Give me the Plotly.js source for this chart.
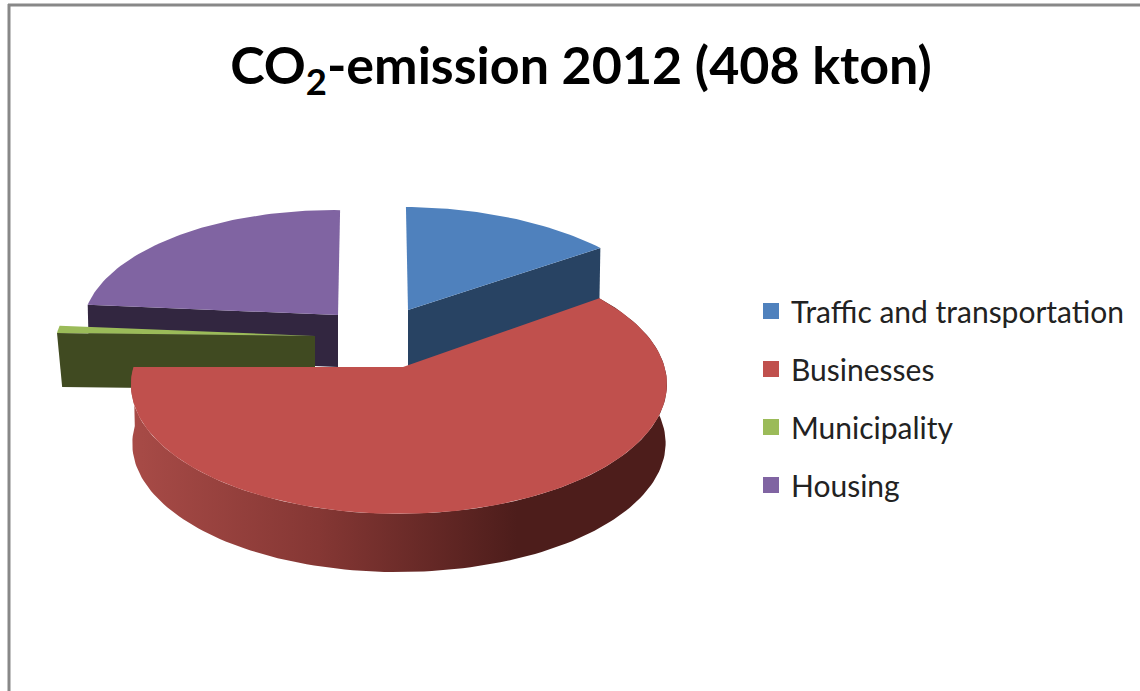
<!DOCTYPE html>
<html>
<head>
<meta charset="utf-8">
<script src="https://cdn.plot.ly/plotly-3.0.1.min.js"></script>
<style>html,body{margin:0;padding:0;background:#fff;overflow:hidden}#chart{width:1140px;height:691px}</style>
</head>
<body>
<div id="chart"></div>
<script>
// Data (kton CO2)
const categories = ["Traffic and transportation", "Businesses", "Municipality", "Housing"];
const emissions = [61, 245, 4, 98];
const chartTitle = "CO<sub>2</sub>-emission 2012 (408 kton)";

// Styles
const topColors = ["#4f81bd", "#c0504d", "#9bbb59", "#8064a2"];
const wallColors = ["#284363", "#4d1d1b", "#404a21", "#322640"];

// Projection of each exploded slice: apex, radii, perspective, shear, tilt, wall height, wall shrink
const projection = [
  {ax:408, ay:310, R:259, S:117, k:.135, m:0,    sh:.02,  ty:.01,  h:56, s:.995, wall:"end"},
  {ax:403, ay:367, R:265.5, S:127, k:.135, m:.015, sh:0,  ty:0,    h:59, s:.995, wall:"rim"},
  {ax:315, ay:336, R:258, S:119, k:.135, m:0,    sh:0,    ty:.012, h:54, s:.98,  wall:"start"},
  {ax:338, ay:315, R:253, S:119, k:.135, m:0,    sh:-.02, ty:.012, h:52, s:.995, wall:"start"}
];

const total = emissions.reduce((a, b) => a + b, 0);
function offset(p, deg) {
  const t = deg * Math.PI / 180, u = Math.sin(t), v = -Math.cos(t);
  const den = 1 - p.k * v + p.m * u;
  const dy = p.S * v / den, dx = p.R * u / den + p.sh * dy;
  return [dx, dy + p.ty * (p.R * u / den)];
}
function arc(a, b) {
  const n = Math.max(2, Math.ceil((b - a) / 1.5)), out = [];
  for (let i = 0; i <= n; i++) out.push(a + (b - a) * i / n);
  return out;
}
const sliceTraces = [], wallTraces = [], keyTraces = [];
let cum = 0;
categories.forEach((name, i) => {
  const a = cum / total * 360, b = (cum + emissions[i]) / total * 360;
  cum += emissions[i];
  const p = projection[i];
  const angles = arc(a, b);
  const topX = [p.ax], topY = [p.ay];
  angles.forEach(d => { const o = offset(p, d); topX.push(p.ax + o[0]); topY.push(p.ay + o[1]); });
  topX.push(p.ax); topY.push(p.ay);
  const wx = [], wy = [];
  if (p.wall === "rim") {
    angles.forEach(d => { const o = offset(p, d); wx.push(p.ax + o[0]); wy.push(p.ay + o[1]); });
    angles.slice().reverse().forEach(d => { const o = offset(p, d); wx.push(p.ax + o[0] * p.s); wy.push(p.ay + o[1] * p.s + p.h); });
  } else {
    const o = offset(p, p.wall === "end" ? b : a);
    wx.push(p.ax, p.ax + o[0], p.ax + o[0] * p.s, p.ax);
    wy.push(p.ay, p.ay + o[1], p.ay + o[1] * p.s + p.h, p.ay + p.h);
  }
  const wall = {type:"scatter", mode:"lines", x:wx, y:wy, fill:"toself", line:{width:0},
    fillcolor:wallColors[i], showlegend:false, hoverinfo:"skip", name:name + " side"};
  if (p.wall === "rim") wall.fillgradient = {type:"horizontal",
    colorscale:[[0,"#a84b47"],[.35,"#853734"],[.72,"#4d1d1b"],[1,"#4d1d1b"]]};
  wallTraces.push(wall);
  sliceTraces.push({type:"scatter", mode:"lines", x:topX, y:topY, fill:"toself", line:{width:0},
    fillcolor:topColors[i], showlegend:false, name:name, hoverinfo:"text",
    text:name + ": " + emissions[i] + " kton"});
  keyTraces.push({type:"scatter", mode:"markers", x:[null], y:[null], name:name, legendgroup:name,
    marker:{symbol:"square", size:16, color:topColors[i]}});
});
// Back slices first so the front slice overlaps them
const order = [3, 0, 2, 1];
const traces = [];
order.forEach(i => { traces.push(wallTraces[i], sliceTraces[i]); });
keyTraces.forEach(t => traces.push(t));

const layout = {
  width:1140, height:691, margin:{l:0, r:0, t:0, b:0},
  paper_bgcolor:"#fff", plot_bgcolor:"#fff",
  xaxis:{range:[0,1140], visible:false, fixedrange:true},
  yaxis:{range:[691,0], visible:false, fixedrange:true},
  title:{text:chartTitle, x:581/1140, xanchor:"center", y:1-66/691, yanchor:"middle", yref:"container",
    font:{family:"Lato, 'Open Sans', sans-serif", size:52, color:"#000", weight:700}},
  legend:{x:751/1140, y:1-285/691, xanchor:"left", yanchor:"top", tracegroupgap:16, traceorder:"grouped",
    font:{family:"Lato, 'Open Sans', sans-serif", size:30, color:"#222"}, bgcolor:"rgba(0,0,0,0)"},
  shapes:[
    {type:"line", xref:"x", yref:"y", x0:8, x1:1140, y0:5, y1:5, line:{color:"#888", width:3}},
    {type:"line", xref:"x", yref:"y", x0:9, x1:9, y0:4, y1:691, line:{color:"#888", width:3}}
  ]
};
Plotly.newPlot("chart", traces, layout, {displayModeBar:false, staticPlot:true});
</script>
</body>
</html>
